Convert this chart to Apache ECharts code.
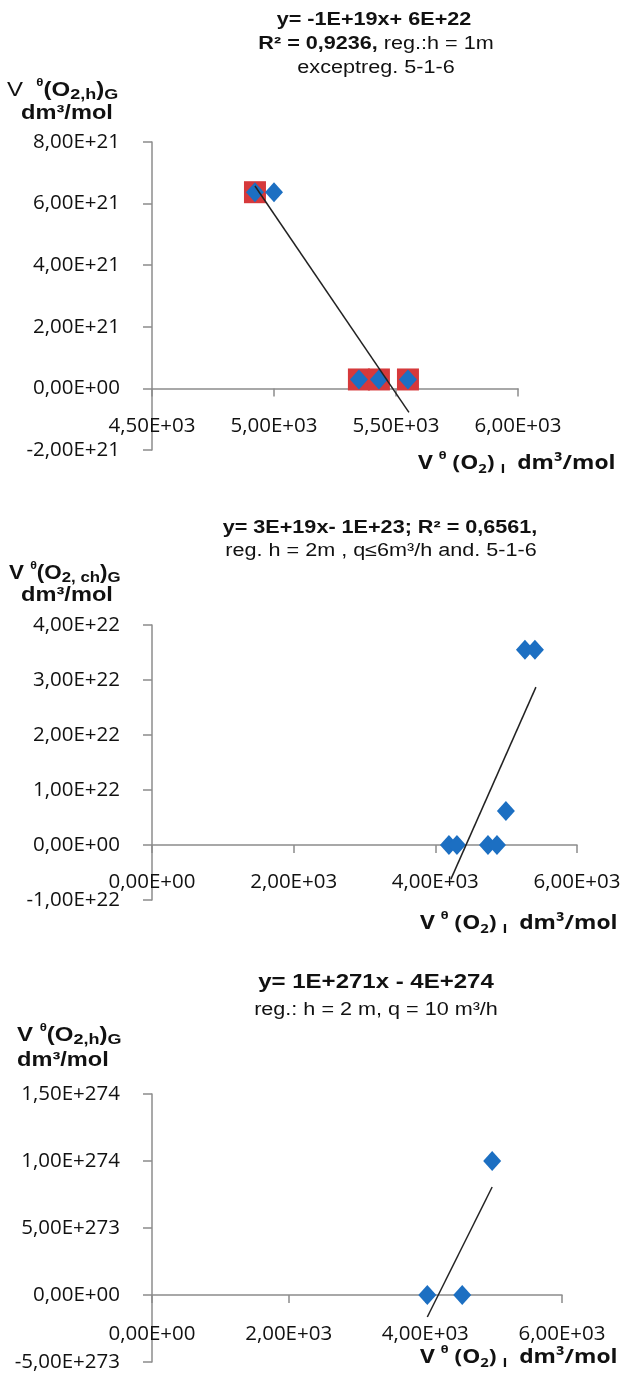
<!DOCTYPE html>
<html><head><meta charset="utf-8">
<script src="https://cdn.jsdelivr.net/npm/echarts@6/dist/echarts.min.js"></script>
<style>html,body{margin:0;padding:0;background:#fff}#c{width:623px;height:1383px}</style>
</head><body><div id="c"></div>
<script>
// ---------- Panel 1 data ----------
const p1X = [4922, 5000, 5348, 5430, 5549];
const p1Y = [6.37e21, 6.37e21, 2.9e20, 2.9e20, 2.9e20];
const p1MarkX = [4922, 5348, 5430, 5549];
const p1MarkY = [6.37e21, 2.9e20, 2.9e20, 2.9e20];
const p1TrendX = [4922, 5553];
const p1TrendY = [6.57e21, -7.8e20];
const p1XTicks = [4500, 5000, 5500, 6000];
const p1YTicks = [-2e21, 0, 2e21, 4e21, 6e21, 8e21];
// ---------- Panel 2 data ----------
const p2X = [4192, 4305, 4743, 4870, 4996, 5265, 5406];
const p2Y = [0, 0, 0, 0, 6.2e21, 3.55e22, 3.55e22];
const p2TrendX = [4220, 5420];
const p2TrendY = [-6.2e21, 2.87e22];
const p2XTicks = [0, 2000, 4000, 6000];
const p2YTicks = [-1e22, 0, 1e22, 2e22, 3e22, 4e22];
// ---------- Panel 3 data ----------
const p3X = [4029, 4540, 4978];
const p3Y = [0, 0, 1.0e274];
const p3TrendX = [4029, 4978];
const p3TrendY = [-1.64e273, 8.06e273];
const p3XTicks = [0, 2000, 4000, 6000];
const p3YTicks = [-5e273, 0, 5e273, 1e274, 1.5e274];

function sci(v) {
  if (v === 0) return '0,00E+00';
  const s = Number(v).toExponential(2);
  const parts = s.split('e');
  let d = parts[1].slice(1);
  if (d.length < 2) d = '0' + d;
  return parts[0].replace('.', ',') + 'E' + parts[1][0] + d;
}
function zip(a, b) { return a.map((x, i) => [x, b[i]]); }

const AX = '#8c8c8c';
const LBL = { fontFamily: 'Open Sans', fontSize: 20.5, color: '#111', formatter: sci };
function xAxis(grid, ticks, margin) {
  return {
    type: 'value', gridIndex: grid,
    min: ticks[0], max: ticks[ticks.length - 1], interval: ticks[1] - ticks[0],
    axisLine: { show: true, onZero: true, lineStyle: { color: AX, width: 1.5 } },
    axisTick: { show: true, length: 8, inside: false, lineStyle: { color: AX, width: 1.5 } },
    splitLine: { show: false },
    axisLabel: Object.assign({ margin: margin }, LBL)
  };
}
function yAxis(grid, ticks) {
  return {
    type: 'value', gridIndex: grid,
    min: ticks[0], max: ticks[ticks.length - 1], interval: ticks[1] - ticks[0],
    axisLine: { show: true, onZero: false, lineStyle: { color: AX, width: 1.5 } },
    axisTick: { show: true, length: 9, inside: false, lineStyle: { color: AX, width: 1.5 } },
    splitLine: { show: false },
    axisLabel: Object.assign({ margin: 32 }, LBL)
  };
}
const BLUE = '#1c6fc2', RED = '#d6393b';
function diamonds(i, xs, ys) {
  return { type: 'scatter', xAxisIndex: i, yAxisIndex: i, symbol: 'diamond', symbolSize: [18, 20],
    itemStyle: { color: BLUE, opacity: 1 }, data: zip(xs, ys), z: 3 };
}
function trend(i, xs, ys) {
  return { type: 'line', xAxisIndex: i, yAxisIndex: i, showSymbol: false, symbol: 'none',
    lineStyle: { color: '#222', width: 1.5 }, data: zip(xs, ys), z: 4 };
}

const FT = 'Liberation Sans';
const rich = {
  b: { fontFamily: FT, fontSize: 18, fontWeight: 'bold', fill: '#111' },
  bb: { fontFamily: FT, fontSize: 20, fontWeight: 'bold', fill: '#111' },
  n: { fontFamily: FT, fontSize: 18, fontWeight: 'normal', fill: '#111' },
  m: { fontFamily: FT, fontSize: 20, fontWeight: 'bold', fill: '#111', lineHeight: 25 },
  mv: { fontFamily: FT, fontSize: 20, fontWeight: 'normal', fill: '#111', lineHeight: 25 },
  s: { fontFamily: FT, fontSize: 15, fontWeight: 'bold', fill: '#111', lineHeight: 15, verticalAlign: 'bottom' },
  th: { fontFamily: FT, fontSize: 11, fontWeight: 'bold', fill: '#111', lineHeight: 12, verticalAlign: 'top' },
  xm: { fontFamily: 'Open Sans', fontSize: 20, fontWeight: 'bold', fill: '#111', lineHeight: 26 },
  xs: { fontFamily: 'Open Sans', fontSize: 13, fontWeight: 'bold', fill: '#111', lineHeight: 14, verticalAlign: 'bottom' },
  xth: { fontFamily: 'Open Sans', fontSize: 11, fontWeight: 'bold', fill: '#111', lineHeight: 12, verticalAlign: 'top' }
};
function txt(x, y, text, align, sx) {
  return { type: 'text', x: x, y: y, silent: true, scaleX: sx || 1.2, scaleY: 1,
    style: { text: text, rich: rich, align: align || 'center', verticalAlign: 'middle', font: 'bold 18px "Liberation Sans"', fill: '#111' } };
}
const XTITLE = '{xm|V }{xth|θ}{xm| (O}{xs|2}{xm|) }{xs|I}{xm|  dm³/mol}';
const YT1 = '{mv|V  }{th|θ}{m|(O}{s|2,h}{m|)}{s|G}';
const YT2 = '{m|V }{th|θ}{m|(O}{s|2, ch}{m|)}{s|G}';
const YT3 = '{m|V }{th|θ}{m|(O}{s|2,h}{m|)}{s|G}';

const option = {
  animation: false,
  backgroundColor: '#fff',
  grid: [
    { left: 152, top: 142, width: 366, height: 308, containLabel: false, outerBoundsMode: 'none' },
    { left: 152, top: 625, width: 425, height: 275, containLabel: false, outerBoundsMode: 'none' },
    { left: 152, top: 1094, width: 410, height: 268, containLabel: false, outerBoundsMode: 'none' }
  ],
  xAxis: [xAxis(0, p1XTicks, -34), xAxis(1, p2XTicks, -28), xAxis(2, p3XTicks, -38)],
  yAxis: [yAxis(0, p1YTicks), yAxis(1, p2YTicks), yAxis(2, p3YTicks)],
  series: [
    { type: 'scatter', xAxisIndex: 0, yAxisIndex: 0, symbol: 'rect', symbolSize: 22,
      itemStyle: { color: RED, opacity: 1 }, data: zip(p1MarkX, p1MarkY), z: 2 },
    diamonds(0, p1X, p1Y), trend(0, p1TrendX, p1TrendY),
    diamonds(1, p2X, p2Y), trend(1, p2TrendX, p2TrendY),
    diamonds(2, p3X, p3Y), trend(2, p3TrendX, p3TrendY)
  ],
  graphic: [
    txt(374, 20, '{b|y= -1E+19x+ 6E+22}'),
    txt(376, 44, '{b|R² = 0,9236,} {n|reg.:h = 1m}'),
    txt(376, 68, '{n|exceptreg. 5-1-6}'),
    txt(7, 90, YT1, 'left', 1.2),
    txt(67, 113, '{m|dm³/mol}', 'center', 1.18),
    txt(418, 463, XTITLE, 'left', 1.14),

    txt(380, 528, '{b|y= 3E+19x- 1E+23; R² = 0,6561,}'),
    txt(381, 551, '{n|reg. h = 2m , q≤6m³/h and. 5-1-6}'),
    txt(9, 573, YT2, 'left', 1.12),
    txt(67, 595, '{m|dm³/mol}', 'center', 1.18),
    txt(420, 923, XTITLE, 'left', 1.14),

    txt(376, 982, '{bb|y= 1E+271x - 4E+274}'),
    txt(376, 1010, '{n|reg.: h = 2 m, q = 10 m³/h}'),
    txt(17, 1035, YT3, 'left', 1.2),
    txt(17, 1060, '{m|dm³/mol}', 'left', 1.18),
    txt(420, 1357, XTITLE, 'left', 1.14)
  ]
};
const chart = echarts.init(document.getElementById('c'), null, { renderer: 'canvas' });
chart.setOption(option);
</script>
</body></html>
